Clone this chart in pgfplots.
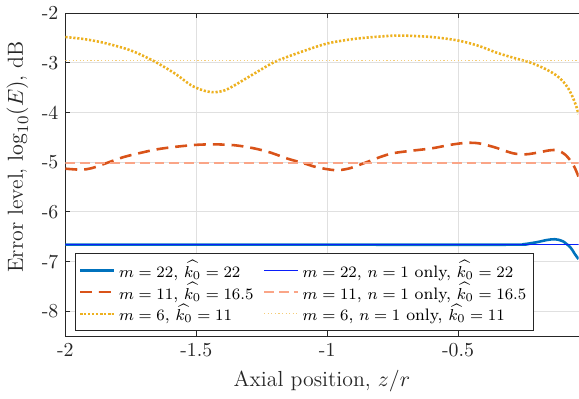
\documentclass[border=0pt]{standalone}
\usepackage{pgfplots}
\pgfplotsset{compat=1.18}
\definecolor{mblue}{RGB}{0,114,189}
\definecolor{mdblue}{RGB}{10,30,250}
\definecolor{morange}{RGB}{217,83,25}
\definecolor{msalmon}{RGB}{250,165,135}
\definecolor{myellow}{RGB}{237,177,32}
\definecolor{mlyellow}{RGB}{245,205,120}
\definecolor{axcol}{RGB}{38,38,38}
\begin{document}
\begin{tikzpicture}
\begin{axis}[
  scale only axis,
  width=259pt, height=163pt,
  xmin=-2, xmax=-0.04,
  ymin=-8.5, ymax=-2,
  axis x line=box, axis y line*=left,
  axis line style={axcol, line width=0.5pt},
  xtick={-2,-1.5,-1,-0.5},
  xticklabels={-2,-1.5,-1,-0.5},
  ytick={-8,-7,-6,-5,-4,-3,-2},
  yticklabels={-8,-7,-6,-5,-4,-3,-2},
  tick align=inside,
  major tick length=2.5pt,
  tick style={axcol, line width=0.5pt},
  grid=major,
  major grid style={line width=0.5pt, black!12},
  tick label style={font=\fontsize{10}{12}\selectfont, text=axcol},
  label style={font=\fontsize{11}{13}\selectfont, text=axcol},
  xlabel={Axial position, $z/r$},
  ylabel={Error level, $\log_{10}(E)$, dB},
  ylabel style={at={(ticklabel cs:0.555)}},
  legend columns=2,
  legend cell align=left,
  legend style={at={(rel axis cs:0.019,0.015)}, anchor=south west,
    font=\fontsize{8.4}{10}\selectfont, draw=axcol, line width=0.6pt,
    inner sep=1.5pt, row sep=-3pt, /tikz/every even column/.append style={column sep=3pt}},
]
\addplot[mblue, line width=1.3pt, smooth] coordinates {
(-2,-6.66) (-1.0,-6.66) (-0.30,-6.66) (-0.25,-6.65) (-0.20,-6.61) (-0.16,-6.565) (-0.13,-6.55) (-0.10,-6.59) (-0.07,-6.72) (-0.055,-6.84) (-0.04,-6.95)};
\addlegendentry{$m=22$, $\widehat{k_0}=22$}
\addplot[mdblue, line width=0.6pt] coordinates {(-2,-6.66) (-0.04,-6.66)};
\addlegendentry{$m=22$, $n=1$ only, $\widehat{k_0}=22$}
\addplot[morange, line width=1.3pt, dash pattern=on 6pt off 3.5pt, smooth] coordinates {
(-2.00,-5.13) (-1.94,-5.15) (-1.90,-5.12) (-1.85,-5.03) (-1.78,-4.90) (-1.72,-4.82) (-1.65,-4.74) (-1.58,-4.69) (-1.50,-4.65) (-1.43,-4.64) (-1.35,-4.66) (-1.28,-4.72) (-1.22,-4.80) (-1.15,-4.93) (-1.09,-5.02) (-1.04,-5.10) (-0.97,-5.16) (-0.92,-5.13) (-0.87,-5.04) (-0.80,-4.90) (-0.75,-4.82) (-0.68,-4.77) (-0.60,-4.72) (-0.53,-4.65) (-0.47,-4.61) (-0.42,-4.62) (-0.36,-4.70) (-0.29,-4.82) (-0.24,-4.84) (-0.19,-4.80) (-0.15,-4.76) (-0.12,-4.76) (-0.09,-4.85) (-0.06,-5.05) (-0.04,-5.29)};
\addlegendentry{$m=11$, $\widehat{k_0}=16.5$}
\addplot[msalmon, line width=0.8pt, dash pattern=on 5pt off 2.5pt] coordinates {(-2,-5.02) (-0.04,-5.02)};
\addlegendentry{$m=11$, $n=1$ only, $\widehat{k_0}=16.5$}
\addplot[myellow, line width=1.3pt, dash pattern=on 1.1pt off 0.9pt, smooth] coordinates {
(-2.00,-2.48) (-1.93,-2.52) (-1.85,-2.60) (-1.75,-2.75) (-1.66,-2.97) (-1.58,-3.22) (-1.52,-3.45) (-1.47,-3.56) (-1.43,-3.59) (-1.39,-3.55) (-1.35,-3.44) (-1.28,-3.22) (-1.20,-2.98) (-1.10,-2.78) (-1.00,-2.61) (-0.90,-2.52) (-0.80,-2.47) (-0.72,-2.45) (-0.60,-2.48) (-0.50,-2.55) (-0.42,-2.66) (-0.35,-2.80) (-0.28,-2.91) (-0.22,-3.00) (-0.16,-3.14) (-0.12,-3.27) (-0.09,-3.43) (-0.07,-3.60) (-0.05,-3.85) (-0.04,-4.03)};
\addlegendentry{$m=6$, $\widehat{k_0}=11$}
\addplot[mlyellow, line width=0.5pt, dash pattern=on 0.6pt off 1.2pt] coordinates {(-2,-2.96) (-0.04,-2.96)};
\addlegendentry{$m=6$, $n=1$ only, $\widehat{k_0}=11$}
\end{axis}
\end{tikzpicture}
\end{document}
